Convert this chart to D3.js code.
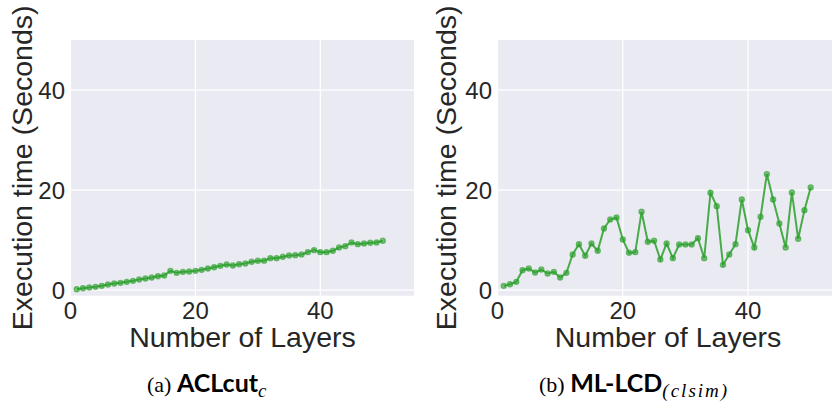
<!DOCTYPE html>
<html>
<head>
<meta charset="utf-8">
<script src="https://cdn.jsdelivr.net/npm/d3@7"></script>
<style>
  body { margin: 0; background: #fff; }
  svg { display: block; }
</style>
</head>
<body>
<svg id="chart" width="832" height="412"></svg>
<script>
// Layer numbers on the x axis
var layers = [1, 2, 3, 4, 5, 6, 7, 8, 9, 10, 11, 12, 13, 14, 15, 16, 17, 18, 19, 20,
  21, 22, 23, 24, 25, 26, 27, 28, 29, 30, 31, 32, 33, 34, 35, 36, 37, 38, 39, 40,
  41, 42, 43, 44, 45, 46, 47, 48, 49, 50];
// Execution time (seconds)
var aclcutTimes = [0.2, 0.4, 0.53, 0.67, 0.87, 1.13, 1.33, 1.47, 1.67, 1.87,
  2.13, 2.33, 2.53, 2.8, 2.93, 3.87, 3.47, 3.67, 3.73, 3.87,
  4.07, 4.33, 4.6, 4.87, 5.13, 4.93, 5.2, 5.33, 5.67, 5.87,
  5.9, 6.4, 6.4, 6.67, 6.93, 7.0, 7.13, 7.6, 8.0, 7.6,
  7.6, 7.87, 8.53, 8.8, 9.53, 9.2, 9.33, 9.47, 9.53, 9.87];
var mllcdTimes = [0.87, 1.2, 1.67, 4.0, 4.33, 3.53, 4.13, 3.33, 3.67, 2.53,
  3.47, 7.13, 9.2, 6.87, 9.33, 7.87, 12.33, 14.13, 14.53, 10.13,
  7.47, 7.6, 15.67, 9.67, 9.87, 6.13, 9.33, 6.4, 9.13, 9.13,
  9.13, 10.4, 6.4, 19.47, 16.8, 5.07, 7.13, 9.2, 18.13, 12.0,
  8.53, 14.67, 23.2, 18.13, 13.33, 8.53, 19.53, 10.27, 16.0, 20.53];
var xTicks = [0, 20, 40];
var yTicks = [0, 20, 40];
var xLabel = "Number of Layers";
var yLabel = "Execution time (Seconds)";

var svg = d3.select("#chart");
var green = "#2ca02c";
var textColor = "#262626";

function drawPanel(left, right, top, bottom, values, yLabelX, id) {
  var x = d3.scaleLinear().domain([0, 55]).range([left - 0.5, right]);
  var y = d3.scaleLinear().domain([-1.1, 50]).range([bottom, top]);

  svg.append("clipPath").attr("id", id)
    .append("rect").attr("x", left).attr("y", top)
    .attr("width", right - left).attr("height", bottom - top);

  var g = svg.append("g");
  g.append("rect").attr("x", left).attr("y", top)
    .attr("width", right - left).attr("height", bottom - top)
    .attr("fill", "#eaeaf2");

  var grid = g.append("g").attr("clip-path", "url(#" + id + ")");
  grid.selectAll(".gx").data(xTicks).enter().append("line")
    .attr("x1", d => x(d)).attr("x2", d => x(d))
    .attr("y1", top).attr("y2", bottom)
    .attr("stroke", "#fff").attr("stroke-width", 1.2);
  grid.selectAll(".gy").data(yTicks).enter().append("line")
    .attr("x1", left).attr("x2", right)
    .attr("y1", d => y(d)).attr("y2", d => y(d))
    .attr("stroke", "#fff").attr("stroke-width", 1.2);

  var pts = layers.map((l, i) => [l, values[i]]);
  var line = d3.line().x(d => x(d[0])).y(d => y(d[1]));
  grid.append("path").datum(pts).attr("d", line)
    .attr("fill", "none").attr("stroke", green)
    .attr("stroke-width", 2).attr("stroke-opacity", 0.85);
  grid.selectAll(".pt").data(pts).enter().append("circle")
    .attr("cx", d => x(d[0])).attr("cy", d => y(d[1])).attr("r", 2.6)
    .attr("fill", green).attr("fill-opacity", 0.6)
    .attr("stroke", green).attr("stroke-opacity", 0.6).attr("stroke-width", 1.2);

  // tick labels
  g.selectAll(".tx").data(xTicks).enter().append("text")
    .attr("x", d => x(d)).attr("y", bottom + 23)
    .attr("text-anchor", "middle")
    .attr("font-family", "Liberation Sans, Arial, sans-serif")
    .attr("font-size", 24).attr("fill", textColor)
    .text(d => d);
  g.selectAll(".ty").data(yTicks).enter().append("text")
    .attr("x", left - 6).attr("y", d => y(d))
    .attr("dy", "0.36em")
    .attr("text-anchor", "end")
    .attr("font-family", "Liberation Sans, Arial, sans-serif")
    .attr("font-size", 24).attr("fill", textColor)
    .text(d => d);

  // axis titles
  g.append("text")
    .attr("x", (left + right) / 2 - (right > 832 ? 2 : 0))
    .attr("y", 347)
    .attr("text-anchor", "middle")
    .attr("font-family", "Liberation Sans, Arial, sans-serif")
    .attr("font-size", 28.5).attr("fill", textColor)
    .text(xLabel);
  g.append("text")
    .attr("transform", "translate(" + yLabelX + "," + ((top + bottom) / 2) + ") rotate(-90)")
    .attr("text-anchor", "middle")
    .attr("font-family", "Liberation Sans, Arial, sans-serif")
    .attr("font-size", 28.5).attr("fill", textColor)
    .text(yLabel);
}

drawPanel(71, 414, 40, 295.7, aclcutTimes, 32, "clipA");
drawPanel(498, 842, 40, 295.7, mllcdTimes, 456, "clipB");

// sub-figure captions
function caption(x, tag, name, sub, subSpacing) {
  var t = svg.append("text").attr("x", x).attr("y", 392)
    .attr("font-family", "Liberation Serif, serif").attr("font-size", 22).attr("fill", "#000");
  t.append("tspan").text(tag + " ");
  t.append("tspan").attr("font-family", "Lato, Noto Sans, sans-serif")
    .attr("font-weight", "bold").attr("font-size", 25).text(name);
  t.append("tspan").attr("font-style", "italic").attr("font-size", 19)
    .attr("letter-spacing", subSpacing).attr("dy", 5).text(sub);
}
caption(147, "(a)", "ACLcut", "c", 0);
caption(539, "(b)", "ML-LCD", "(clsim)", 2);
</script>
</body>
</html>
